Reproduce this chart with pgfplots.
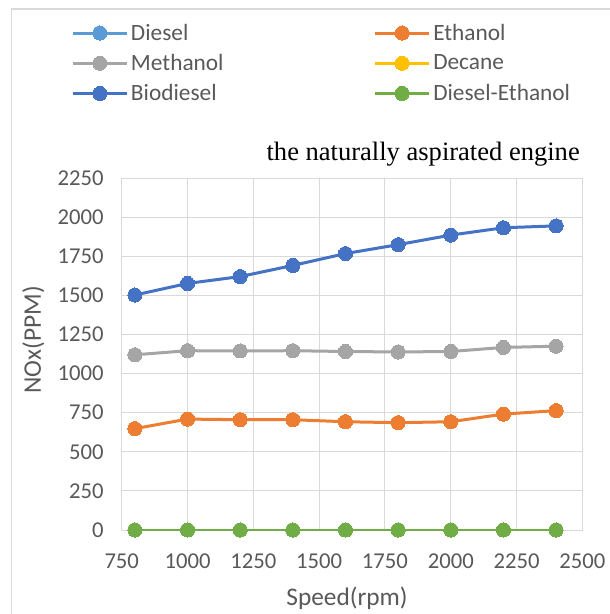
\documentclass[border=0pt]{standalone}
\usepackage{fontspec}
\setmainfont{Carlito}
\newfontfamily\titlefont{Liberation Serif}
\usepackage{pgfplots}
\pgfplotsset{compat=1.18}
\definecolor{cDiesel}{HTML}{5B9BD5}
\definecolor{cEthanol}{HTML}{ED7D31}
\definecolor{cMethanol}{HTML}{A5A5A5}
\definecolor{cDecane}{HTML}{FFC000}
\definecolor{cBio}{HTML}{4472C4}
\definecolor{cDE}{HTML}{70AD47}
\definecolor{gridc}{HTML}{D9D9D9}
\definecolor{txt}{HTML}{595959}
\pgfplotsset{
  ser/.style={#1, line width=2.25pt, mark=*, mark size=5.3pt,
    mark options={solid, fill=#1, draw=#1, line width=0pt}},
}
\begin{document}
\begin{tikzpicture}
\path[use as bounding box] (0,0) rectangle (457.5pt,-460.5pt);
\fill[white] (0,0) rectangle (457.5pt,-460.5pt);
\draw[gridc, line width=1.2pt] (8.6pt,-460.5pt) -- (8.6pt,-6.8pt) -- (457.5pt,-6.8pt);
\begin{axis}[
  at={(91.3pt,-397.5pt)}, anchor=south west,
  scale only axis, width=345.5pt, height=264pt,
  xmin=750, xmax=2500, ymin=0, ymax=2250,
  xtick distance=250, ytick distance=250,
  grid=major, grid style={gridc, line width=0.75pt},
  axis line style={gridc, line width=0.75pt},
  major tick length=0pt,
  /pgf/number format/1000 sep={},
  ticklabel style={font=\fontsize{17}{20}\selectfont, text=txt,
    /pgf/number format/assume math mode=true},
  xticklabel style={yshift=-14pt},
  yticklabel style={xshift=-10pt},
  xlabel={Speed(rpm)}, ylabel={NOx(PPM)},
  label style={font=\fontsize{19}{22}\selectfont, text=txt},
  xlabel style={at={(axis description cs:0.489,-0.193)}, anchor=center},
  ylabel style={at={(axis description cs:-0.192,0.54)}, anchor=center},
  legend columns=2, legend cell align=left,
  legend image code/.code={\draw[mark repeat=2, mark phase=2]
    plot coordinates {(0pt,0pt) (20.25pt,0pt) (40.5pt,0pt)};},
  legend style={draw=none, fill=none, inner sep=0pt, text=txt,
    font=\fontsize{17.5}{20}\selectfont,
    at={(axis description cs:-0.110,1.446)}, anchor=north west,
    row sep=5pt,
    /tikz/every even column/.append style={column sep=110.5pt}},
]
\addplot[ser=cDiesel] coordinates {(800,0) (1000,0) (1200,0) (1400,0) (1600,0) (1800,0) (2000,0) (2200,0) (2400,0)};
\addlegendentry{Diesel}
\addplot[ser=cEthanol] coordinates {(800,648) (1000,709) (1200,705) (1400,705) (1600,692) (1800,686) (2000,692) (2200,741) (2400,763)};
\addlegendentry{Ethanol}
\addplot[ser=cMethanol] coordinates {(800,1120) (1000,1146) (1200,1145) (1400,1146) (1600,1141) (1800,1138) (2000,1141) (2200,1167) (2400,1175)};
\addlegendentry{Methanol}
\addplot[ser=cDecane] coordinates {(800,0) (1000,0) (1200,0) (1400,0) (1600,0) (1800,0) (2000,0) (2200,0) (2400,0)};
\addlegendentry{Decane}
\addplot[ser=cBio] coordinates {(800,1502) (1000,1576) (1200,1620) (1400,1691) (1600,1767) (1800,1824) (2000,1885) (2200,1932) (2400,1944)};
\addlegendentry{Biodiesel}
\addplot[ser=cDE] coordinates {(800,0) (1000,0) (1200,0) (1400,0) (1600,0) (1800,0) (2000,0) (2200,0) (2400,0)};
\addlegendentry{Diesel-Ethanol}
\end{axis}
\node[font=\titlefont\fontsize{19.9}{22}\selectfont, anchor=base east, inner sep=0pt]
  at (435pt,-120pt) {the naturally aspirated engine};
\end{tikzpicture}
\end{document}
